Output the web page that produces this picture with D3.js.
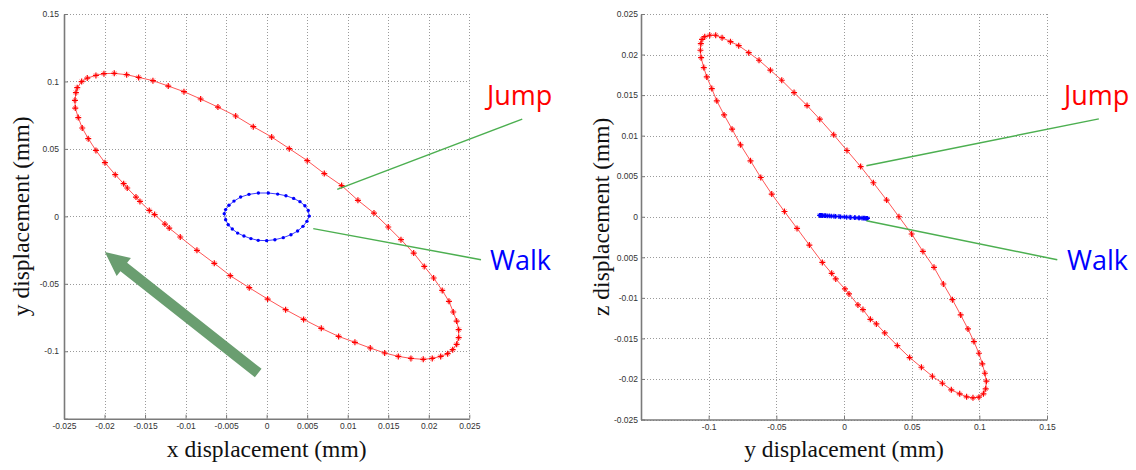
<!DOCTYPE html>
<html>
<head>
<meta charset="utf-8">
<script src="https://cdn.jsdelivr.net/npm/d3@7"></script>
<style>
  body { margin: 0; background: #fff; }
  svg { display: block; }
</style>
</head>
<body>
<svg id="fig" width="1136" height="470"></svg>
<script>
// ---------- x-y plane (left panel) ----------
const xyXTicks = [-0.025, -0.02, -0.015, -0.01, -0.005, 0, 0.005, 0.01, 0.015, 0.02, 0.025];
const xyXTickLabels = ["-0.025", "-0.02", "-0.015", "-0.01", "-0.005", "0", "0.005", "0.01", "0.015", "0.02", "0.025"];
const xyYTicks = [0.15, 0.1, 0.05, 0, -0.05, -0.1, -0.15];
const xyYTickLabels = ["0.15", "0.1", "0.05", "0", "-0.05", "-0.1", ""];

// jump trajectory, x and y displacement (mm)
const jumpX = [-0.02365, -0.02353, -0.02337, -0.02282, -0.02213, -0.02106, -0.02007, -0.01880, -0.01727, -0.01579,
  -0.01403, -0.01214, -0.01020, -0.00814, -0.00601, -0.00382, -0.00165, 0.00062, 0.00279, 0.00501,
  0.00711, 0.00925, 0.01126, 0.01324, 0.01500, 0.01657, 0.01814, 0.01944, 0.02060, 0.02166,
  0.02249, 0.02302, 0.02344, 0.02369, 0.02369, 0.02344, 0.02295, 0.02233, 0.02147, 0.02043,
  0.01932, 0.01780, 0.01624, 0.01456, 0.01278, 0.01089, 0.00888, 0.00674, 0.00456, 0.00234,
  0.00012, -0.00215, -0.00449, -0.00646, -0.00860, -0.01066, -0.01202, -0.01255, -0.01382, -0.01448,
  -0.01563, -0.01612, -0.01720, -0.01764, -0.01868, -0.01995, -0.02106, -0.02201, -0.02275, -0.02324,
  -0.02361];
const jumpY = [0.0860, 0.0917, 0.0954, 0.0999, 0.1025, 0.1045, 0.1058, 0.1060, 0.1050, 0.1030,
  0.1006, 0.0966, 0.0924, 0.0870, 0.0810, 0.0744, 0.0665, 0.0588, 0.0502, 0.0413,
  0.0317, 0.0228, 0.0119, 0.0024, -0.0079, -0.0173, -0.0272, -0.0371, -0.0457, -0.0549,
  -0.0630, -0.0709, -0.0776, -0.0840, -0.0899, -0.0949, -0.0988, -0.1018, -0.1038, -0.1053,
  -0.1060, -0.1053, -0.1038, -0.1013, -0.0976, -0.0934, -0.0890, -0.0830, -0.0764, -0.0692,
  -0.0613, -0.0529, -0.0440, -0.0348, -0.0252, -0.0153, -0.0087, -0.0057, 0.0013, 0.0044,
  0.0111, 0.0143, 0.0210, 0.0242, 0.0309, 0.0398, 0.0489, 0.0576, 0.0655, 0.0732,
  0.0803];

// walk trajectory, x and y displacement (mm)
const walkX = [-0.00523, -0.00506, -0.00474, -0.00424, -0.00358, -0.00280, -0.00194, -0.00104, 0.00000, 0.00102,
  0.00205, 0.00300, 0.00382, 0.00448, 0.00497, 0.00526, 0.00513, 0.00472, 0.00411, 0.00333,
  0.00238, 0.00136, 0.00021, -0.00102, -0.00218, -0.00321, -0.00403, -0.00465, -0.00506];
const walkY = [0.0020, -0.0025, -0.0062, -0.0094, -0.0124, -0.0146, -0.0165, -0.0178, -0.0180, -0.0173,
  -0.0158, -0.0136, -0.0109, -0.0074, -0.0037, 0.0002, 0.0044, 0.0079, 0.0109, 0.0133,
  0.0153, 0.0165, 0.0173, 0.0173, 0.0163, 0.0143, 0.0113, 0.0082, 0.0050];

// ---------- y-z plane (right panel) ----------
const yzXTicks = [-0.15, -0.1, -0.05, 0, 0.05, 0.1, 0.15];
const yzXTickLabels = ["", "-0.1", "-0.05", "0", "0.05", "0.1", "0.15"];
const yzYTicks = [0.025, 0.02, 0.015, 0.01, 0.005, 0, -0.005, -0.01, -0.015, -0.02, -0.025];
const yzYTickLabels = ["0.025", "0.02", "0.015", "0.01", "0.005", "0", "0.005", "-0.01", "-0.015", "-0.02", "-0.025"];

// jump trajectory, y and z displacement (mm)
const jumpYz = [-0.1061, -0.1058, -0.1049, -0.1029, -0.0992, -0.0948, -0.0901, -0.0839, -0.0778, -0.0704,
  -0.0628, -0.0544, -0.0460, -0.0369, -0.0273, -0.0179, -0.0076, 0.0022, 0.0123, 0.0217,
  0.0315, 0.0406, 0.0500, 0.0583, 0.0665, 0.0734, 0.0801, 0.0862, 0.0916, 0.0960,
  0.0997, 0.1022, 0.1041, 0.1052, 0.1047, 0.1030, 0.0997, 0.0953, 0.0906, 0.0855,
  0.0793, 0.0727, 0.0653, 0.0572, 0.0485, 0.0394, 0.0301, 0.0239, 0.0195, 0.0140,
  0.0103, 0.0037, 0.0007, -0.0061, -0.0091, -0.0160, -0.0256, -0.0347, -0.0440, -0.0534,
  -0.0615, -0.0691, -0.0765, -0.0827, -0.0886, -0.0940, -0.0977, -0.1014, -0.1036, -0.1056];
const jumpZ = [0.02053, 0.02134, 0.02188, 0.02220, 0.02238, 0.02238, 0.02208, 0.02159, 0.02110, 0.02023,
  0.01930, 0.01807, 0.01683, 0.01531, 0.01371, 0.01203, 0.01010, 0.00817, 0.00619, 0.00419,
  0.00206, 0.00000, -0.00213, -0.00427, -0.00624, -0.00829, -0.01022, -0.01211, -0.01383, -0.01539,
  -0.01683, -0.01814, -0.01930, -0.02028, -0.02122, -0.02184, -0.02225, -0.02233, -0.02220, -0.02184,
  -0.02134, -0.02053, -0.01967, -0.01856, -0.01736, -0.01589, -0.01432, -0.01321, -0.01265, -0.01145,
  -0.01087, -0.00952, -0.00890, -0.00767, -0.00698, -0.00563, -0.00349, -0.00144, 0.00065, 0.00280,
  0.00484, 0.00690, 0.00887, 0.01080, 0.01256, 0.01429, 0.01580, 0.01724, 0.01839, 0.01962];

// walk trajectory, y and z displacement (mm)
const walkYz = [0.0020, -0.0025, -0.0062, -0.0094, -0.0124, -0.0146, -0.0165, -0.0178, -0.0180, -0.0173,
  -0.0158, -0.0136, -0.0109, -0.0074, -0.0037, 0.0002, 0.0044, 0.0079, 0.0109, 0.0133,
  0.0153, 0.0165, 0.0173, 0.0173, 0.0163, 0.0143, 0.0113, 0.0082, 0.0050];
const walkZ = [-0.00006, -0.00001, 0.00004, 0.00008, 0.00011, 0.00014, 0.00016, 0.00017, 0.00018, 0.00017,
  0.00015, 0.00013, 0.00010, 0.00006, 0.00003, -0.00002, -0.00006, -0.00010, -0.00013, -0.00016,
  -0.00018, -0.00020, -0.00021, -0.00021, -0.00020, -0.00018, -0.00015, -0.00012, -0.00009];

// callouts: leader lines in data units [x1, y1, x2, y2]
const xyJumpLeader = [0.00871, 0.0200, 0.03153, 0.0721];
const xyWalkLeader = [0.00575, -0.0091, 0.02644, -0.0321];
const yzJumpLeader = [0.01654, 0.00628, 0.1883, 0.01207];
const yzWalkLeader = [0.01654, -0.00049, 0.1576, -0.0053];
// direction arrow in the x-y plane: tail -> head
const xyArrow = [-0.00104, -0.1162, -0.01995, -0.0265];

const svg = d3.select("#fig");

// '*' marker: a bold plus with a lighter diagonal cross
function drawStar(sel, s, color) {
  const d = s * 0.7;
  sel.append("path").attr("d", `M${-s},0H${s}M0,${-s}V${s}`)
    .attr("stroke", color).attr("stroke-width", 1.2).attr("fill", "none");
  sel.append("path").attr("d", `M${-d},${-d}L${d},${d}M${-d},${d}L${d},${-d}`)
    .attr("stroke", color).attr("stroke-opacity", 0.55).attr("stroke-width", 1).attr("fill", "none");
}

function panel(o) {
  const x = d3.scaleLinear().domain(o.xDomain).range([o.left, o.right]);
  const y = d3.scaleLinear().domain(o.yDomain).range([o.bottom, o.top]);
  const g = svg.append("g");

  // dotted grid
  const grid = g.append("g")
    .attr("stroke", "#9a9a9a").attr("stroke-width", 1).attr("stroke-dasharray", "1,2");
  grid.selectAll("line.v").data(o.xTicks).join("line").attr("class", "v")
    .attr("x1", d => Math.round(x(d)) + 0.5).attr("x2", d => Math.round(x(d)) + 0.5)
    .attr("y1", o.top).attr("y2", o.bottom);
  grid.selectAll("line.h").data(o.yTicks).join("line").attr("class", "h")
    .attr("y1", d => Math.round(y(d)) + 0.5).attr("y2", d => Math.round(y(d)) + 0.5)
    .attr("x1", o.left).attr("x2", o.right);

  // axes
  const ax = g.append("g").attr("transform", `translate(0,${o.bottom})`)
    .call(d3.axisBottom(x).tickValues(o.xTicks)
      .tickFormat((d, i) => o.xLabels[i]).tickSizeInner(-4).tickSizeOuter(0).tickPadding(4));
  const ay = g.append("g").attr("transform", `translate(${o.left},0)`)
    .call(d3.axisLeft(y).tickValues(o.yTicks)
      .tickFormat((d, i) => o.yLabels[i]).tickSizeInner(-4).tickSizeOuter(0).tickPadding(o.yPad));
  [ax, ay].forEach(a => {
    a.select(".domain").attr("stroke", "#7a7a7a").attr("stroke-width", 1.6);
    a.selectAll(".tick line").attr("stroke", "#7a7a7a").attr("stroke-width", 1);
    a.selectAll(".tick text").attr("fill", "#333")
      .style("font-family", "'Liberation Sans', Arial, sans-serif").style("font-size", "8.5px");
  });

  // axis titles
  g.append("text").attr("x", (o.left + o.right) / 2).attr("y", 457)
    .attr("text-anchor", "middle")
    .style("font-family", "'Liberation Serif', 'Times New Roman', serif").style("font-size", "23.5px")
    .attr("fill", "#111").text(o.xTitle);
  g.append("text").attr("transform", `translate(${o.yTitleX},${(o.top + o.bottom) / 2}) rotate(-90)`)
    .attr("text-anchor", "middle")
    .style("font-family", "'Liberation Serif', 'Times New Roman', serif").style("font-size", "23.5px")
    .attr("fill", "#111").text(o.yTitle);

  // series
  const line = d3.line().x(d => x(d[0])).y(d => y(d[1])).curve(d3.curveLinearClosed);
  o.series.forEach(s => {
    const pts = d3.zip(s.xs, s.ys);
    g.append("path").datum(pts).attr("d", line)
      .attr("fill", "none").attr("stroke", s.lineColor).attr("stroke-width", 1);
    if (s.marker === "dot") {
      g.append("g").selectAll("circle").data(pts).join("circle")
        .attr("cx", d => x(d[0])).attr("cy", d => y(d[1])).attr("r", 1.7).attr("fill", s.color);
    } else {
      g.append("g").selectAll("g").data(pts).join("g")
        .attr("transform", d => `translate(${x(d[0])},${y(d[1])})`)
        .each(function () { drawStar(d3.select(this), s.size, s.color); });
    }
  });

  // leader lines and callout labels
  o.callouts.forEach(c => {
    const [x1, y1, x2, y2] = c.leader;
    g.append("line").attr("x1", x(x1)).attr("y1", y(y1)).attr("x2", x(x2)).attr("y2", y(y2))
      .attr("stroke", "#4caf50").attr("stroke-width", 1.5);
    g.append("text").attr("x", c.tx).attr("y", c.ty)
      .style("font-family", "'Open Sans', 'Noto Sans', sans-serif").style("font-size", "27px")
      .attr("fill", c.color).text(c.text);
  });

  return { x, y, g };
}

const left = panel({
  xDomain: [-0.025, 0.025], yDomain: [-0.15, 0.15],
  left: 64, right: 469.3, top: 14, bottom: 418.7,
  xTicks: xyXTicks, xLabels: xyXTickLabels, yTicks: xyYTicks, yLabels: xyYTickLabels, yPad: 5,
  xTitle: "x displacement (mm)", yTitle: "y displacement (mm)", yTitleX: 29,
  series: [
    { xs: jumpX, ys: jumpY, color: "#ff0000", lineColor: "#ff5555", marker: "star", size: 3 },
    { xs: walkX, ys: walkY, color: "#0000ff", lineColor: "#3b3bff", marker: "dot" }
  ],
  callouts: [
    { leader: xyJumpLeader, text: "Jump", color: "#ff0000", tx: 487, ty: 105 },
    { leader: xyWalkLeader, text: "Walk", color: "#0000ff", tx: 490, ty: 270 }
  ]
});

// direction arrow
{
  const { x, y, g } = left;
  const T = [x(xyArrow[0]), y(xyArrow[1])], P = [x(xyArrow[2]), y(xyArrow[3])];
  const len = Math.hypot(P[0] - T[0], P[1] - T[1]);
  const u = [(P[0] - T[0]) / len, (P[1] - T[1]) / len], n = [-u[1], u[0]];
  const headLen = 24, headHalf = 11.5, shaftHalf = 5.4;
  const B = [P[0] - u[0] * headLen, P[1] - u[1] * headLen];
  const at = (p, k) => [p[0] + n[0] * k, p[1] + n[1] * k];
  const poly = [at(T, shaftHalf), at(B, shaftHalf), at(B, headHalf), P, at(B, -headHalf), at(B, -shaftHalf), at(T, -shaftHalf)];
  g.append("polygon").attr("points", poly.map(p => p.join(",")).join(" ")).attr("fill", "#6a9e70");
}

panel({
  xDomain: [-0.15, 0.15], yDomain: [-0.025, 0.025],
  left: 641, right: 1047, top: 14, bottom: 419.5,
  xTicks: yzXTicks, xLabels: yzXTickLabels, yTicks: yzYTicks, yLabels: yzYTickLabels, yPad: 3,
  xTitle: "y displacement (mm)", yTitle: "z displacement (mm)", yTitleX: 609,
  series: [
    { xs: jumpYz, ys: jumpZ, color: "#ff0000", lineColor: "#ff5555", marker: "star", size: 3 },
    { xs: walkYz, ys: walkZ, color: "#0000ff", lineColor: "#3b3bff", marker: "star", size: 2.4 }
  ],
  callouts: [
    { leader: yzJumpLeader, text: "Jump", color: "#ff0000", tx: 1064, ty: 105 },
    { leader: yzWalkLeader, text: "Walk", color: "#0000ff", tx: 1067, ty: 270 }
  ]
});
</script>
</body>
</html>
